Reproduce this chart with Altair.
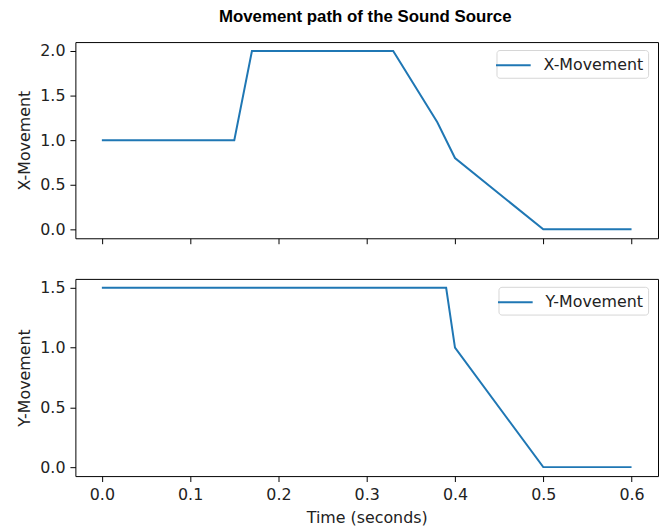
import altair as alt
import pandas as pd

time_x = [0.0, 0.15, 0.17, 0.33, 0.38, 0.40, 0.50, 0.60]
x_move = [1.0, 1.0, 2.0, 2.0, 1.2, 0.8, 0.0, 0.0]
time_y = [0.0, 0.39, 0.40, 0.50, 0.60]
y_move = [1.5, 1.5, 1.0, 0.0, 0.0]
x_ticks = [0.0, 0.1, 0.2, 0.3, 0.4, 0.5, 0.6]
top_ticks = [0.0, 0.5, 1.0, 1.5, 2.0]
bot_ticks = [0.0, 0.5, 1.0, 1.5]

dfx = pd.DataFrame({"t": time_x, "v": x_move, "s": ["X-Movement"] * len(time_x)})
dfy = pd.DataFrame({"t": time_y, "v": y_move, "s": ["Y-Movement"] * len(time_y)})

FONT = "DejaVu Sans"
W = 588
LINE_SYMBOL = "M-1.6,0H1.9"


def legend(lx):
    return alt.Legend(
        title=None, orient="none", legendX=lx, legendY=8,
        symbolType=LINE_SYMBOL, symbolSize=400, symbolStrokeWidth=2,
        labelFontSize=16, labelFont=FONT, labelColor="#222222", labelOffset=21,
        strokeColor="#d6d6d6", fillColor="white", cornerRadius=3, padding=4.5,
    )


xscale = alt.Scale(domain=[-0.03, 0.63], nice=False, zero=False)

top = alt.Chart(dfx).mark_line(strokeWidth=2).encode(
    x=alt.X("t:Q", scale=xscale,
            axis=alt.Axis(values=x_ticks, labels=False, title=None, grid=False)),
    y=alt.Y("v:Q", scale=alt.Scale(domain=[-0.1, 2.1], nice=False),
            axis=alt.Axis(values=top_ticks, format=".1f", title="X-Movement", grid=False)),
    color=alt.Color("s:N", scale=alt.Scale(range=["#1f77b4"]), legend=legend(425)),
).properties(width=W, height=198)

bottom = alt.Chart(dfy).mark_line(strokeWidth=2).encode(
    x=alt.X("t:Q", scale=xscale,
            axis=alt.Axis(values=x_ticks, format=".1f", title="Time (seconds)", grid=False)),
    y=alt.Y("v:Q", scale=alt.Scale(domain=[-0.075, 1.575], nice=False),
            axis=alt.Axis(values=bot_ticks, format=".1f", title="Y-Movement", grid=False)),
    color=alt.Color("s:N", scale=alt.Scale(range=["#1f77b4"]), legend=legend(427)),
).properties(width=W, height=199)

chart = alt.vconcat(top, bottom, spacing=33).resolve_scale(color="independent").properties(
    title=alt.TitleParams("Movement path of the Sound Source", font="Liberation Sans",
                          fontSize=17, fontWeight="bold", anchor="middle", dx=28,
                          offset=16, color="black"),
    padding={"left": 8, "top": -3, "right": 1, "bottom": 0},
).configure_view(stroke="black", strokeWidth=1).configure_axis(
    labelFont=FONT, titleFont=FONT, labelFontSize=16, titleFontSize=16,
    titleFontWeight="normal", labelColor="#222222", titleColor="#222222",
    domain=False, tickColor="black", tickSize=5.5, labelPadding=5, titlePadding=7,
).configure_concat(spacing=33)

chart.save("out.html", embed_options={"renderer": "svg", "actions": False})
